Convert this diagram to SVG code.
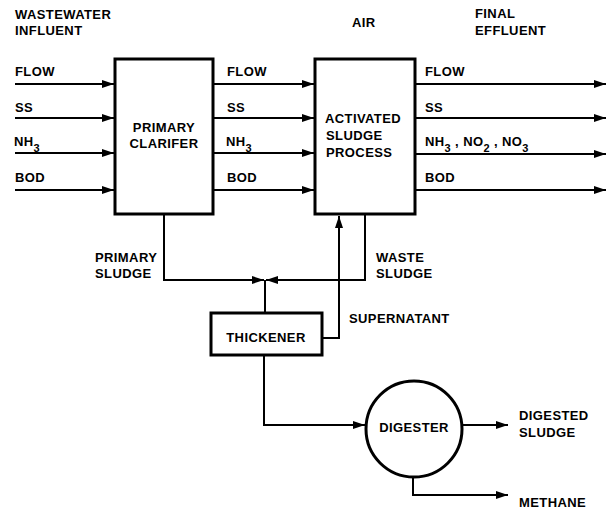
<svg xmlns="http://www.w3.org/2000/svg" width="607" height="513" viewBox="0 0 607 513">
<style>
text{font-family:"Liberation Sans",Arial,sans-serif;font-weight:bold;font-size:13px;letter-spacing:0.4px;fill:#000}
.box{fill:#fff;stroke:#000;stroke-width:3}
.ln{fill:none;stroke:#000;stroke-width:2}
.sub{font-size:11px}
</style>
<defs>
<marker id="ah" markerWidth="12" markerHeight="8" refX="12" refY="4" orient="auto" markerUnits="userSpaceOnUse">
<path d="M0,0 L12,4 L0,8 Z" fill="#000"/>
</marker>
</defs>
<rect width="607" height="513" fill="#fff"/>
<g id="connectors">
<line class="ln" x1="15" y1="84" x2="114" y2="84" marker-end="url(#ah)"/>
<line class="ln" x1="15" y1="118" x2="114" y2="118" marker-end="url(#ah)"/>
<line class="ln" x1="15" y1="153" x2="114" y2="153" marker-end="url(#ah)"/>
<line class="ln" x1="15" y1="190" x2="114" y2="190" marker-end="url(#ah)"/>
<line class="ln" x1="213" y1="84" x2="314" y2="84" marker-end="url(#ah)"/>
<line class="ln" x1="213" y1="118" x2="314" y2="118" marker-end="url(#ah)"/>
<line class="ln" x1="213" y1="153" x2="314" y2="153" marker-end="url(#ah)"/>
<line class="ln" x1="213" y1="190" x2="314" y2="190" marker-end="url(#ah)"/>
<line class="ln" x1="416" y1="84" x2="606" y2="84" marker-end="url(#ah)"/>
<line class="ln" x1="416" y1="118" x2="606" y2="118" marker-end="url(#ah)"/>
<line class="ln" x1="416" y1="154" x2="606" y2="154" marker-end="url(#ah)"/>
<line class="ln" x1="416" y1="190" x2="606" y2="190" marker-end="url(#ah)"/>
<polyline class="ln" points="164,215 164,280 264,280" marker-end="url(#ah)"/>
<polyline class="ln" points="365,215 365,280 266,280" marker-end="url(#ah)"/>
<line class="ln" x1="265" y1="280" x2="265" y2="313"/>
<polyline class="ln" points="322,338 339,338 339,216" marker-end="url(#ah)"/>
<polyline class="ln" points="264,356 264,425 365,425" marker-end="url(#ah)"/>
<line class="ln" x1="463" y1="425" x2="508" y2="425" marker-end="url(#ah)"/>
<polyline class="ln" points="413,476 413,495 508,495" marker-end="url(#ah)"/>
</g>
<g id="primary-clarifier">
<rect class="box" x="115" y="59" width="98" height="155"/>
<text x="164" y="132" text-anchor="middle">PRIMARY</text>
<text x="164" y="148" text-anchor="middle">CLARIFER</text>
</g>
<g id="activated-sludge">
<rect class="box" x="315" y="59" width="100" height="155"/>
<text x="325" y="123">ACTIVATED</text>
<text x="326" y="140">SLUDGE</text>
<text x="326" y="157">PROCESS</text>
</g>
<g id="thickener">
<rect class="box" x="211" y="313" width="111" height="42"/>
<text x="266" y="342" text-anchor="middle">THICKENER</text>
</g>
<g id="digester">
<circle cx="414" cy="429" r="48" fill="#fff" stroke="#000" stroke-width="3"/>
<text x="414" y="432" text-anchor="middle">DIGESTER</text>
</g>
<g id="labels">
<text x="15" y="19">WASTEWATER</text>
<text x="15" y="35">INFLUENT</text>
<text x="352" y="27">AIR</text>
<text x="475" y="18">FINAL</text>
<text x="475" y="35">EFFLUENT</text>
<text x="15" y="76">FLOW</text>
<text x="15" y="112">SS</text>
<text x="14" y="146">NH<tspan class="sub" dy="6">3</tspan></text>
<text x="15" y="182">BOD</text>
<text x="227" y="76">FLOW</text>
<text x="227" y="112">SS</text>
<text x="226" y="146">NH<tspan class="sub" dy="6">3</tspan></text>
<text x="227" y="182">BOD</text>
<text x="425" y="76">FLOW</text>
<text x="425" y="112">SS</text>
<text x="425" y="146">NH<tspan class="sub" dy="6">3</tspan><tspan dy="-6"> , NO</tspan><tspan class="sub" dy="6">2</tspan><tspan dy="-6"> , NO</tspan><tspan class="sub" dy="6">3</tspan></text>
<text x="425" y="182">BOD</text>
<text x="95" y="262">PRIMARY</text>
<text x="95" y="278">SLUDGE</text>
<text x="376" y="262">WASTE</text>
<text x="376" y="278">SLUDGE</text>
<text x="349" y="323">SUPERNATANT</text>
<text x="519" y="420">DIGESTED</text>
<text x="519" y="437">SLUDGE</text>
<text x="519" y="507">METHANE</text>
</g>
</svg>
